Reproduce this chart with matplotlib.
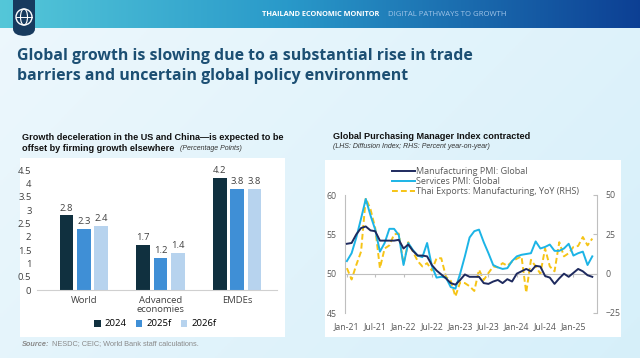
import matplotlib
matplotlib.use("Agg")
import matplotlib.pyplot as plt
import numpy as np
from matplotlib.patches import Rectangle, FancyBboxPatch, Ellipse

# ---- bar chart data ----
bar_groups = ["World", "Advanced\neconomies", "EMDEs"]
bar_years = ["2024", "2025f", "2026f"]
growth_2024 = [2.8, 1.7, 4.2]
growth_2025 = [2.3, 1.2, 3.8]
growth_2026 = [2.4, 1.4, 3.8]
bar_yticks = [0, 0.5, 1, 1.5, 2, 2.5, 3, 3.5, 4, 4.5]

# ---- PMI data (Jan-21 .. May-25) ----
months = ["Jan-21", "Jul-21", "Jan-22", "Jul-22", "Jan-23", "Jul-23", "Jan-24", "Jul-24", "Jan-25"]
mfg_pmi = [53.8, 53.9, 55.0, 55.8, 56.0, 55.5, 55.4, 54.2, 54.2, 54.2, 54.2, 54.3,
           53.2, 53.7, 52.9, 52.3, 52.3, 52.2, 51.1, 50.4, 49.9, 49.4, 48.8, 48.6,
           49.2, 49.9, 49.6, 49.6, 49.6, 48.8, 48.7, 49.0, 49.2, 48.8, 49.3, 49.0,
           50.0, 50.3, 50.6, 50.3, 51.0, 50.9, 49.7, 49.5, 48.7, 49.4, 50.0, 49.6,
           50.1, 50.6, 50.3, 49.8, 49.6]
svc_pmi = [51.6, 52.6, 54.6, 57.0, 59.5, 57.4, 55.6, 52.8, 53.9, 55.7, 55.7, 54.9,
           51.1, 53.9, 53.0, 52.3, 52.1, 53.9, 51.0, 49.5, 49.6, 49.5, 48.3, 48.1,
           50.0, 52.2, 54.6, 55.4, 55.6, 54.0, 52.6, 51.1, 50.8, 50.6, 50.7, 51.6,
           52.2, 52.4, 52.5, 52.6, 54.1, 53.2, 53.4, 53.7, 52.9, 52.9, 53.2, 53.8,
           52.3, 52.6, 52.8, 51.1, 52.2]
thai_exports = [3.5, -3.7, 5.6, 14.0, 48.0, 41.0, 29.0, 3.5, 16.0, 18.0, 25.0, 25.5,
                6.0, 20.0, 14.0, 8.0, 4.6, 6.7, 2.0, 9.8, 9.8, -2.0, -4.5, -14.5,
                -5.5, -6.0, -8.0, -11.0, 2.5, -4.0, 0.4, 4.6, 4.0, 6.7, 5.0, 7.7,
                9.5, 11.0, -12.0, 8.8, 4.6, 0.0, 16.0, 4.6, 1.5, 20.0, 11.0, 13.0,
                17.0, 17.6, 23.3, 18.0, 22.3]

W, H = 640, 358
fig = plt.figure(figsize=(W / 100, H / 100), dpi=100)


def fx(px):
    return px / W


def fy(py):
    return 1 - py / H


def fit_width(txt, target_px):
    # shrink/grow a text so that it spans roughly target_px pixels
    fig.canvas.draw()
    w = txt.get_window_extent().width
    txt.set_fontsize(txt.get_fontsize() * target_px / w)
    return txt.get_fontsize()


# ---- background, header, white panels (all in one full-figure axes) ----
bg = fig.add_axes([0, 0, 1, 1], zorder=-10)
bg.axis("off")
gx = np.linspace(0, 1, 200)
gy = np.linspace(0, 1, 120)
GX, GY = np.meshgrid(gx, gy)
c0 = np.array([0.93, 0.97, 0.99])
c1 = np.array([0.84, 0.94, 0.98])
t = np.clip(0.65 * GX + 0.35 * GY, 0, 1)[..., None]
bg.imshow(c0 * (1 - t) + c1 * t, extent=[0, 1, 0, 1], aspect="auto", origin="upper", zorder=0)

band = np.linspace(0, 1, 300)[None, :, None]
left_c = np.array([0.33, 0.78, 0.85])
mid_c = np.array([0.16, 0.60, 0.79])
right_c = np.array([0.05, 0.25, 0.58])
grad = np.where(band < 0.45, left_c * (1 - band / 0.45) + mid_c * (band / 0.45),
                mid_c * (1 - (band - 0.45) / 0.55) + right_c * ((band - 0.45) / 0.55))
bg.imshow(grad, extent=[0, 1, fy(28), 1], aspect="auto", zorder=1)
bg.set_xlim(0, 1)
bg.set_ylim(0, 1)

# logo
bg.add_patch(FancyBboxPatch((fx(13), fy(36)), fx(22), fy(0) - fy(36) + 0.05,
                            boxstyle="round,pad=0,rounding_size=0.02",
                            fc="#173a5e", ec="none", zorder=2))
bg.add_patch(Ellipse((fx(24), fy(17)), fx(16), fy(9) - fy(25), fc="none", ec="white", lw=1.0, zorder=3))
bg.add_patch(Ellipse((fx(24), fy(17)), fx(7), fy(9) - fy(25), fc="none", ec="white", lw=0.8, zorder=3))
bg.plot([fx(16), fx(32)], [fy(17), fy(17)], color="white", lw=0.7, zorder=3)

# white panels
bg.add_patch(Rectangle((fx(20), fy(337)), fx(265), fy(158) - fy(337), fc="white", ec="none", zorder=2))
bg.add_patch(Rectangle((fx(325), fy(337)), fx(296), fy(160) - fy(337), fc="white", ec="none", zorder=2))

h1 = fig.text(fx(262), fy(15), "THAILAND ECONOMIC MONITOR", color="white", fontsize=6,
              fontweight="bold", family="Open Sans", va="center", ha="left")
fit_width(h1, 118)
h2 = fig.text(fx(388), fy(15), "DIGITAL PATHWAYS TO GROWTH", color="#9fc4e8", fontsize=6,
              family="Open Sans", va="center", ha="left")
fit_width(h2, 120)

# main title
title_kw = dict(color="#1c4f73", fontsize=13, fontweight="bold", family="Open Sans",
                ha="left", va="center")
t_line1 = fig.text(fx(17), fy(56), "Global growth is slowing due to a substantial rise in trade", **title_kw)
t_line2 = fig.text(fx(17), fy(76), "barriers and uncertain global policy environment", **title_kw)
t_line2.set_fontsize(fit_width(t_line1, 450))

# ---- left panel titles ----
sub_kw = dict(family="Liberation Sans", fontsize=6.6, fontweight="bold", color="#111111",
              ha="left", va="center")
fig.text(fx(22), fy(137), "Growth deceleration in the US and China\u2014is expected to be", **sub_kw)
fig.text(fx(22), fy(149), "offset by firming growth elsewhere", **sub_kw)
fig.text(fx(180), fy(149), "(Percentage Points)", family="Liberation Sans", fontsize=5,
         style="italic", color="#333333", ha="left", va="center")
src = fig.text(fx(22), fy(344), "Source:", family="Liberation Sans", fontsize=5.3, style="italic",
               fontweight="bold", color="#8a8a8a", ha="left", va="center")
fig.canvas.draw()
src_end = src.get_window_extent().x1
fig.text((src_end + 3) / W, fy(344), "NESDC; CEIC; World Bank staff calculations.",
         family="Liberation Sans", fontsize=5.3, color="#8a8a8a", ha="left", va="center")

# ---- bar chart ----
ax1 = fig.add_axes([fx(37), fy(290), fx(240), fy(170) - fy(290)])
x = np.arange(len(bar_groups))
bw = 0.178
step = 0.225
colors = ["#10303f", "#3f8fd6", "#b7d3ee"]
for k, (vals, c, lab) in enumerate(zip([growth_2024, growth_2025, growth_2026], colors, bar_years)):
    bars = ax1.bar(x + (k - 1) * step, vals, bw, color=c, label=lab)
    ax1.bar_label(bars, fmt="%.1f", padding=2, fontsize=6.8, color="#404040", family="Open Sans")
ax1.set_xlim(-0.61, 2.52)
ax1.set_ylim(0, 4.5)
ax1.set_yticks(bar_yticks)
ax1.set_yticklabels([f"{v:g}" for v in bar_yticks])
ax1.set_xticks(x)
ax1.set_xticklabels(bar_groups, linespacing=1.1)
ax1.tick_params(axis="both", length=0, labelsize=6.8, colors="#404040", pad=4)
for lab in ax1.get_xticklabels() + ax1.get_yticklabels():
    lab.set_family("Open Sans")
for s in ["top", "right", "left"]:
    ax1.spines[s].set_visible(False)
ax1.spines["bottom"].set_color("#d0d0d0")
ax1.patch.set_alpha(0)
ax1.legend(loc="center", bbox_to_anchor=(fx(155), fy(324)), bbox_transform=fig.transFigure,
           ncol=3, frameon=False, handlelength=0.7, handleheight=0.7,
           handletextpad=0.4, columnspacing=1.0, prop={"family": "Open Sans", "size": 6.8})

# ---- right panel titles ----
fig.text(fx(333), fy(136), "Global Purchasing Manager Index contracted", **sub_kw)
fig.text(fx(333), fy(147), "(LHS: Diffusion Index; RHS: Percent year-on-year)",
         family="Liberation Sans", fontsize=5, style="italic", color="#333333",
         ha="left", va="center")

# ---- line chart ----
ax2 = fig.add_axes([fx(345), fy(313), fx(252), fy(195) - fy(313)])
ax3 = ax2.twinx()
n = len(mfg_pmi)
idx = np.arange(n)
l3, = ax3.plot(idx, thai_exports, color="#f6c416", lw=1.4, ls=(0, (3, 1.6)),
               label="Thai Exports: Manufacturing, YoY (RHS)")
l2, = ax2.plot(idx, svc_pmi, color="#1cb4e6", lw=1.4, label="Services PMI: Global", zorder=3)
l1, = ax2.plot(idx, mfg_pmi, color="#1e2a5e", lw=1.4, label="Manufacturing PMI: Global", zorder=4)
ax2.set_ylim(45, 60)
ax3.set_ylim(-25, 50)
ax2.set_yticks([45, 50, 55, 60])
ax3.set_yticks([-25, 0, 25, 50])
ax2.set_xlim(-0.4, 53.0)
ax2.set_xticks(np.arange(0, n, 6))
ax2.set_xticklabels(months)
ax2.spines["bottom"].set_position(("data", 50))
ax2.spines["bottom"].set_color("#bfbfbf")
ax3.spines["bottom"].set_visible(False)
ax2.spines["top"].set_visible(False)
ax3.spines["top"].set_visible(False)
ax2.spines["right"].set_visible(False)
ax3.spines["left"].set_visible(False)
ax2.spines["left"].set_color("#bfbfbf")
ax3.spines["right"].set_color("#bfbfbf")
ax2.tick_params(axis="x", length=2, color="#bfbfbf", labelcolor="#595959", pad=33, labelsize=6.3)
ax2.tick_params(axis="y", length=0, labelsize=6.3, colors="#595959", pad=6)
ax3.tick_params(axis="y", direction="in", length=3, color="#bfbfbf", labelsize=6.3,
                labelcolor="#595959", pad=6)
for lab in ax2.get_xticklabels() + ax2.get_yticklabels() + ax3.get_yticklabels():
    lab.set_family("Open Sans")
ax2.patch.set_alpha(0)
ax3.patch.set_alpha(0)
ax2.set_zorder(2)
ax3.set_zorder(1)
fig.legend([l1, l2, l3], [l.get_label() for l in [l1, l2, l3]], loc="upper left",
           bbox_to_anchor=(fx(384), fy(159)), frameon=False,
           handlelength=2.5, handletextpad=0.2, labelspacing=0.12,
           prop={"family": "Open Sans", "size": 6.5}, labelcolor="#595959")

fig.savefig("out.png", dpi=100)
